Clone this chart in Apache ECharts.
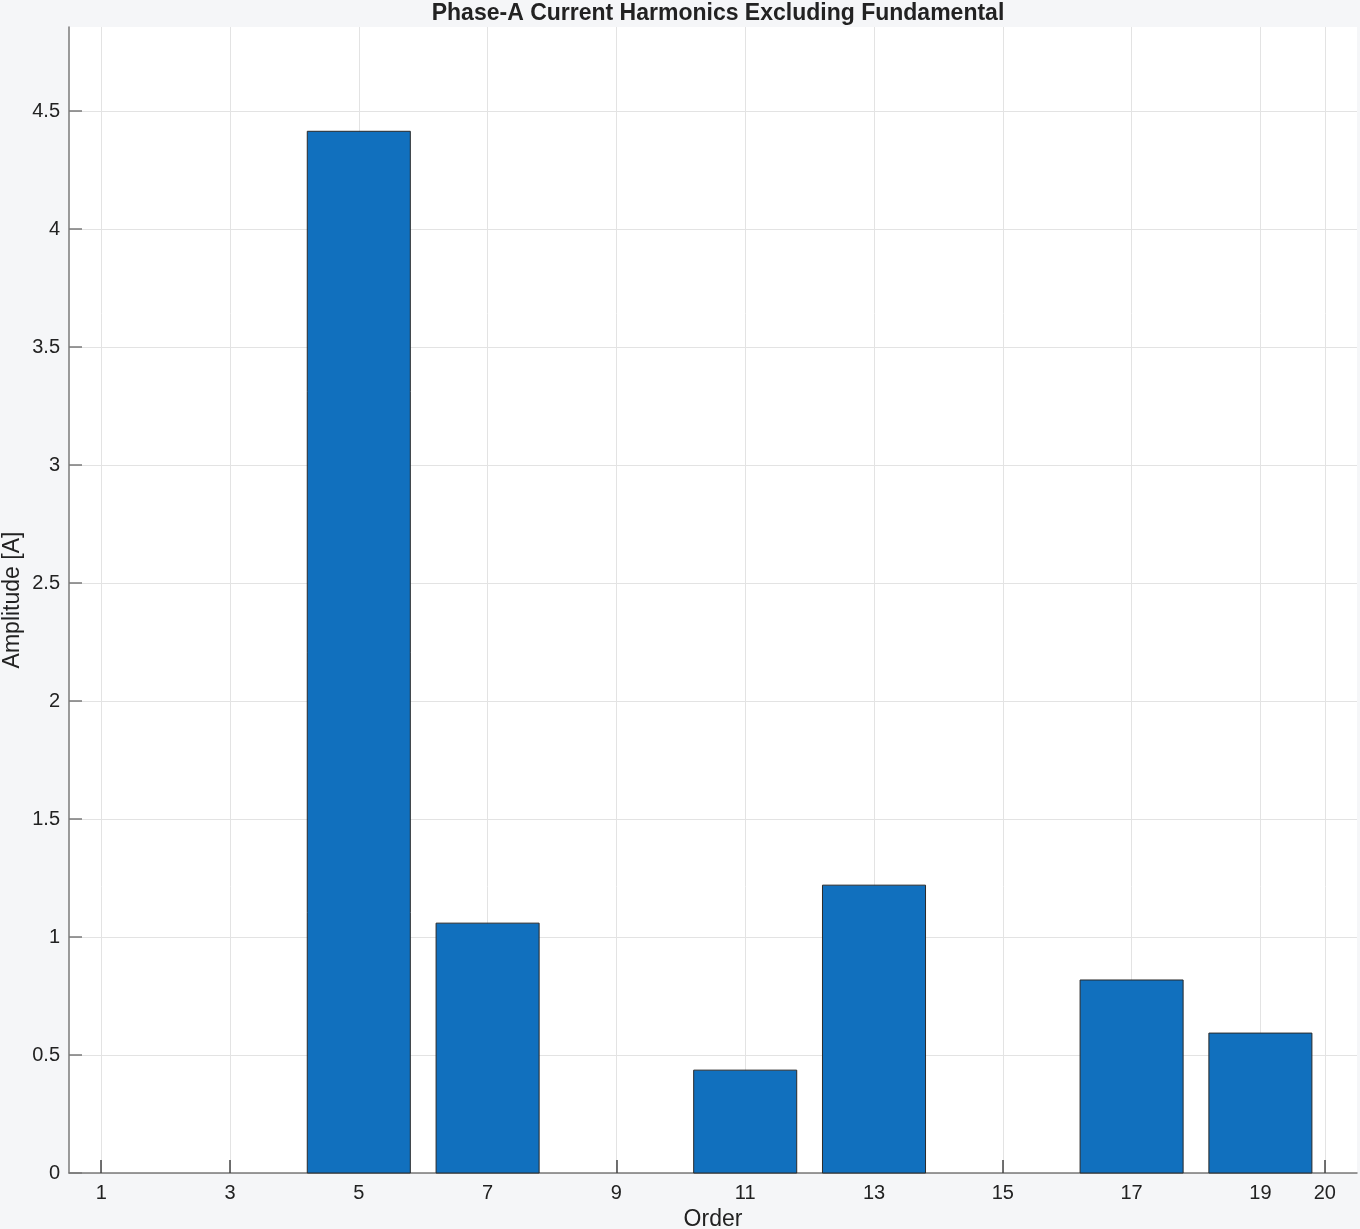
<!DOCTYPE html>
<html>
<head>
<meta charset="utf-8">
<script src="https://cdn.jsdelivr.net/npm/echarts@6/dist/echarts.min.js"></script>
<style>
html,body{margin:0;padding:0;background:#f5f6f8;}
#chart{width:1360px;height:1229px;}
</style>
</head>
<body>
<div id="chart"></div>
<script>
const orders = [1, 3, 5, 7, 9, 11, 13, 15, 17, 19];
const amplitudes = [0, 0, 4.415, 1.059, 0, 0.436, 1.220, 0, 0.818, 0.593];
const xTicks = [1, 3, 5, 7, 9, 11, 13, 15, 17, 19, 20];
const yTicks = [0, 0.5, 1, 1.5, 2, 2.5, 3, 3.5, 4, 4.5];
const barWidthUnits = 1.6;
const xMin = 0.5, xMax = 20.5, yMax = 4.857;
const FONT = '"Liberation Sans", Arial, Helvetica, sans-serif';

const chart = echarts.init(document.getElementById('chart'), null, {renderer: 'canvas'});
const data = orders.map((o, i) => [o, amplitudes[i]]);
chart.setOption({
  backgroundColor: '#f5f6f8',
  animation: false,
  title: {
    text: 'Phase-A Current Harmonics Excluding Fundamental',
    left: 713, top: -3, textAlign: 'center',
    textStyle: {fontFamily: FONT, fontSize: 23, fontWeight: 'bold', color: '#222'}
  },
  grid: {left: 69, right: 3, top: 27, bottom: 56, show: true, backgroundColor: '#ffffff', borderWidth: 0, outerBoundsMode: 'none', containLabel: false},
  xAxis: {
    type: 'value', min: xMin, max: xMax,
    name: 'Order', nameLocation: 'middle', nameGap: 35, nameMoveOverlap: false,
    nameTextStyle: {fontFamily: FONT, fontSize: 23, color: '#222'},
    axisLine: {show: true, onZero: false, lineStyle: {color: '#7a7a7a', width: 1.5}},
    axisTick: {show: true, inside: true, length: 13, customValues: xTicks, lineStyle: {color: '#444', width: 1.5}},
    axisLabel: {customValues: xTicks, margin: 10, fontFamily: FONT, fontSize: 20, color: '#222'},
    splitLine: {show: true, lineStyle: {color: '#e3e3e3', width: 1}}
  },
  yAxis: {
    type: 'value', min: 0, max: yMax,
    name: 'Amplitude [A]', nameLocation: 'middle', nameGap: 45, nameRotate: 90, nameMoveOverlap: false,
    nameTextStyle: {fontFamily: FONT, fontSize: 23, color: '#222'},
    axisLine: {show: true, lineStyle: {color: '#7a7a7a', width: 1.5}},
    axisTick: {show: true, inside: true, length: 13, customValues: yTicks, lineStyle: {color: '#7a7a7a', width: 1.5}},
    axisLabel: {customValues: yTicks, margin: 9, fontFamily: FONT, fontSize: 20, color: '#222'},
    splitLine: {show: true, lineStyle: {color: '#e3e3e3', width: 1}}
  },
  series: [{
    type: 'custom',
    data: data,
    z: 3,
    renderItem: function (params, api) {
      const x = api.value(0), y = api.value(1);
      if (y === 0) return null;
      const p0 = api.coord([x - barWidthUnits / 2, y]);
      const p1 = api.coord([x + barWidthUnits / 2, 0]);
      return {
        type: 'rect',
        shape: {x: p0[0], y: p0[1], width: p1[0] - p0[0], height: p1[1] - p0[1]},
        style: {fill: '#1170be', stroke: '#2a2a2a', lineWidth: 1}
      };
    }
  }]
});
</script>
</body>
</html>
